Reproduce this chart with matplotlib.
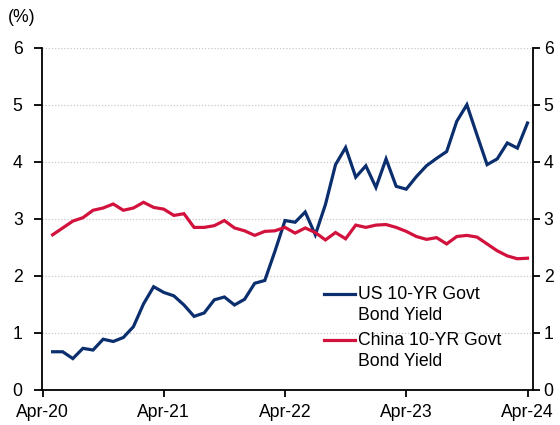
import matplotlib
matplotlib.use("Agg")
import matplotlib.pyplot as plt
from matplotlib.legend_handler import HandlerLine2D
import numpy as np

plt.rcParams['font.family'] = ['Liberation Sans', 'DejaVu Sans']

# Monthly observations, May-20 through Apr-24
months = ['May-20', 'Jun-20', 'Jul-20', 'Aug-20', 'Sep-20', 'Oct-20', 'Nov-20', 'Dec-20',
          'Jan-21', 'Feb-21', 'Mar-21', 'Apr-21', 'May-21', 'Jun-21', 'Jul-21', 'Aug-21',
          'Sep-21', 'Oct-21', 'Nov-21', 'Dec-21', 'Jan-22', 'Feb-22', 'Mar-22', 'Apr-22',
          'May-22', 'Jun-22', 'Jul-22', 'Aug-22', 'Sep-22', 'Oct-22', 'Nov-22', 'Dec-22',
          'Jan-23', 'Feb-23', 'Mar-23', 'Apr-23', 'May-23', 'Jun-23', 'Jul-23', 'Aug-23',
          'Sep-23', 'Oct-23', 'Nov-23', 'Dec-23', 'Jan-24', 'Feb-24', 'Mar-24', 'Apr-24']

us_yield = [0.67, 0.67, 0.55, 0.73, 0.70, 0.89, 0.85, 0.92,
            1.11, 1.51, 1.81, 1.71, 1.65, 1.49, 1.29, 1.35,
            1.58, 1.63, 1.49, 1.59, 1.87, 1.92, 2.43, 2.97,
            2.94, 3.12, 2.72, 3.25, 3.95, 4.25, 3.73, 3.93,
            3.55, 4.05, 3.57, 3.52, 3.74, 3.93, 4.06, 4.18,
            4.71, 5.00, 4.47, 3.95, 4.05, 4.33, 4.24, 4.68]

china_yield = [2.72, 2.84, 2.96, 3.02, 3.15, 3.19, 3.26, 3.15,
               3.19, 3.29, 3.20, 3.17, 3.06, 3.09, 2.85, 2.85,
               2.88, 2.97, 2.84, 2.79, 2.71, 2.78, 2.79, 2.85,
               2.75, 2.84, 2.76, 2.63, 2.76, 2.65, 2.89, 2.85,
               2.89, 2.90, 2.85, 2.78, 2.69, 2.64, 2.67, 2.56,
               2.69, 2.71, 2.68, 2.56, 2.44, 2.35, 2.30, 2.31]

tick_labels = ['Apr-20', 'Apr-21', 'Apr-22', 'Apr-23', 'Apr-24']
y_ticks = [0, 1, 2, 3, 4, 5, 6]

US_COLOR = '#0B2F6E'
CN_COLOR = '#D2123D'
FS = 12.7


class TopAlignedLine(HandlerLine2D):
    """Legend line drawn level with the first line of a two-line label."""

    def __init__(self, shift, **kw):
        super().__init__(**kw)
        self.shift = shift

    def create_artists(self, legend, orig_handle, xdescent, ydescent,
                       width, height, fontsize, trans):
        artists = super().create_artists(legend, orig_handle, xdescent, ydescent,
                                         width, height, fontsize, trans)
        for a in artists:
            a.set_ydata(np.asarray(a.get_ydata(), dtype=float) + self.shift * fontsize)
        return artists


x = np.arange(1, len(months) + 1)

fig = plt.figure(figsize=(5.6, 4.25), dpi=100)
ax = fig.add_axes([0.075, 0.0824, 0.876, 0.8054])

l_us, = ax.plot(x, us_yield, color=US_COLOR, lw=2.3, label='US 10-YR Govt\nBond Yield',
                solid_joinstyle='miter')
l_cn, = ax.plot(x, china_yield, color=CN_COLOR, lw=2.3, label='China 10-YR Govt\nBond Yield',
                solid_joinstyle='miter')

ax.set_xlim(-0.05, 48.5)
ax.set_ylim(0, 6)
ax.set_yticks(y_ticks)
ax.set_xticks([0, 12, 24, 36, 48])
ax.set_xticklabels(tick_labels)

for y in y_ticks[1:]:
    ax.axhline(y, color='#c8c8c8', lw=0.9, ls=(0, (1, 1.5)), zorder=0)

for side in ['top', 'right']:
    ax.spines[side].set_visible(False)
for side in ['left', 'bottom']:
    ax.spines[side].set_linewidth(1.3)
    ax.spines[side].set_color('black')

ax.tick_params(axis='y', direction='out', length=6, width=1.3, pad=8, labelsize=FS)
ax.tick_params(axis='x', direction='out', length=5, width=1.3, pad=5, labelsize=FS)

ax2 = ax.twinx()
ax2.set_ylim(0, 6)
ax2.set_yticks(y_ticks)
for side in ['top', 'left', 'bottom']:
    ax2.spines[side].set_visible(False)
ax2.spines['right'].set_linewidth(1.3)
ax2.tick_params(axis='y', direction='out', length=5, width=1.3, pad=3, labelsize=FS)

fig.text(0.014, 0.96, '(%)', fontsize=FS, ha='left', va='center')

handler = TopAlignedLine(shift=0.62)
leg = ax.legend(handles=[l_us, l_cn], loc='upper left', bbox_to_anchor=(0.575, 0.305),
                frameon=False, fontsize=FS, handlelength=1.75, handletextpad=0.2,
                labelspacing=0.45, borderaxespad=0, borderpad=0,
                handler_map={l_us: handler, l_cn: handler})
for t in leg.get_texts():
    t.set_linespacing(1.32)

fig.savefig('out.png', dpi=100)
